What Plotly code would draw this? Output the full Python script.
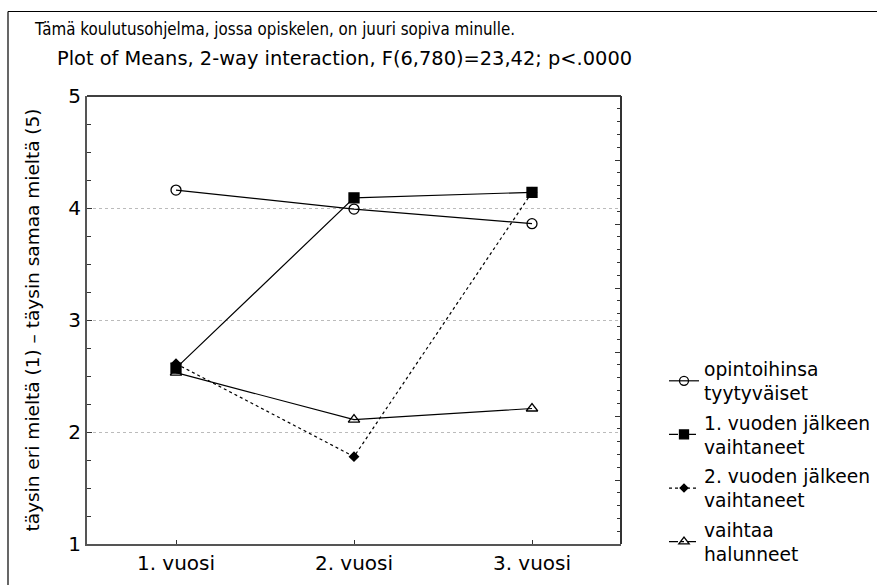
import plotly.graph_objects as go

categories = ["1. vuosi", "2. vuosi", "3. vuosi"]
x_pos = [1, 2, 3]

series_names = [
    "opintoihinsa<br>tyytyväiset",
    "1. vuoden jälkeen<br>vaihtaneet",
    "2. vuoden jälkeen<br>vaihtaneet",
    "vaihtaa<br>halunneet",
]
opintoihinsa_tyytyvaiset = [4.16, 3.99, 3.86]
vuoden1_vaihtaneet = [2.57, 4.09, 4.14]
vuoden2_vaihtaneet = [2.61, 1.78, 4.14]
vaihtaa_halunneet = [2.53, 2.11, 2.21]

title_line1 = "Tämä koulutusohjelma, jossa opiskelen, on juuri sopiva minulle."
title_line2 = "Plot of Means, 2-way interaction, F(6,780)=23,42; p<.0000"
y_title = "täysin eri mieltä (1) – täysin samaa mieltä (5)"

series_values = [opintoihinsa_tyytyvaiset, vuoden1_vaihtaneet, vuoden2_vaihtaneet, vaihtaa_halunneet]
plot_dash = ["solid", "solid", "dot", "solid"]
legend_dash = ["solid", "dash", "dot", "dashdot"]
symbols = ["circle-open", "square", "diamond", "triangle-up-open"]
sizes = [10, 10, 7, 10]
legend_sizes = [9, 9, 6, 9]

W, H = 877, 585
PX0, PX1, PY0, PY1 = 87, 621, 96, 544
PW, PH = PX1 - PX0, PY1 - PY0


def px(x):
    return (x - PX0) / PW


def py(y):
    return (PY1 - y) / PH


fig = go.Figure()
for i, vals in enumerate(series_values):
    fig.add_trace(go.Scatter(
        x=x_pos, y=vals, mode="lines+markers", showlegend=False,
        line=dict(color="black", width=1.2, dash=plot_dash[i]),
        marker=dict(symbol=symbols[i], size=sizes[i], color="black",
                    line=dict(color="black", width=1.3)),
    ))
for i in range(len(series_values)):
    fig.add_trace(go.Scatter(
        x=[None], y=[None], mode="lines+markers", name=series_names[i],
        legendgroup=str(i),
        line=dict(color="black", width=1.2, dash=legend_dash[i]),
        marker=dict(symbol=symbols[i], size=legend_sizes[i], color="black",
                    line=dict(color="black", width=1.3)),
    ))
fig.add_trace(go.Scatter(x=[None], y=[None], yaxis="y2", showlegend=False, hoverinfo="skip"))

fig.update_layout(
    width=W, height=H,
    margin=dict(l=PX0, r=W - PX1, t=PY0, b=H - PY1, autoexpand=False),
    paper_bgcolor="white", plot_bgcolor="white",
    font=dict(family="DejaVu Sans", color="black"),
    showlegend=True,
    legend=dict(x=px(664), y=py(350), xanchor="left", yanchor="top",
                font=dict(size=18.7, family="DejaVu Sans"),
                itemwidth=30, tracegroupgap=2, bgcolor="rgba(0,0,0,0)"),
    xaxis=dict(range=[0.5, 3.5], tickvals=x_pos, ticktext=categories,
               showgrid=False, zeroline=False, automargin=False,
               showline=True, linecolor="#555", linewidth=2,
               ticks="inside", ticklen=4, tickcolor="#333",
               tickfont=dict(size=20, family="DejaVu Sans")),
    yaxis=dict(range=[1, 5], tick0=1, dtick=1, automargin=False,
               showgrid=True, gridcolor="#bbbbbb", griddash="dot", gridwidth=1,
               zeroline=False, showline=True, linecolor="#555", linewidth=2,
               ticks="inside", ticklen=5, tickcolor="#333",
               minor=dict(dtick=0.25, ticks="inside", ticklen=4, tickcolor="#333", showgrid=False),
               tickfont=dict(size=20, family="DejaVu Sans"),
               title=dict(text=y_title, font=dict(size=18.5, family="DejaVu Sans"), standoff=24)),
    yaxis2=dict(overlaying="y", side="right", range=[0, 35], tick0=0, dtick=5,
                ticks="inside", ticklen=6, tickcolor="#333", showticklabels=False,
                showgrid=False, zeroline=False, showline=False, automargin=False,
                minor=dict(dtick=1, ticks="inside", ticklen=4, tickcolor="#333", showgrid=False)),
)

fig.add_shape(type="line", xref="paper", yref="paper", x0=0, x1=1, y0=1, y1=1,
              line=dict(color="black", width=1.5))
fig.add_shape(type="line", xref="paper", yref="paper", x0=1, x1=1, y0=0, y1=1,
              line=dict(color="#333", width=2))
# outer frame: only top and left edges are inside the picture
fig.add_shape(type="line", xref="paper", yref="paper",
              x0=px(8), x1=px(900), y0=py(11.5), y1=py(11.5),
              line=dict(color="black", width=1.2))
fig.add_shape(type="line", xref="paper", yref="paper",
              x0=px(8), x1=px(8), y0=py(11.5), y1=py(600),
              line=dict(color="black", width=1.2))

fig.add_annotation(text=title_line1, xref="paper", yref="paper",
                   x=px(32), y=py(29), xanchor="left", yanchor="middle",
                   showarrow=False, font=dict(size=16.8, family="DejaVu Sans Condensed, Lato"))
fig.add_annotation(text=title_line2, xref="paper", yref="paper",
                   x=px(55), y=py(59), xanchor="left", yanchor="middle",
                   showarrow=False, font=dict(size=19.4, family="DejaVu Sans"))

fig.write_html("out.html",
               config={"displayModeBar": False, "staticPlot": True},
               post_script="document.body.style.margin='0';document.body.style.overflow='hidden';")
